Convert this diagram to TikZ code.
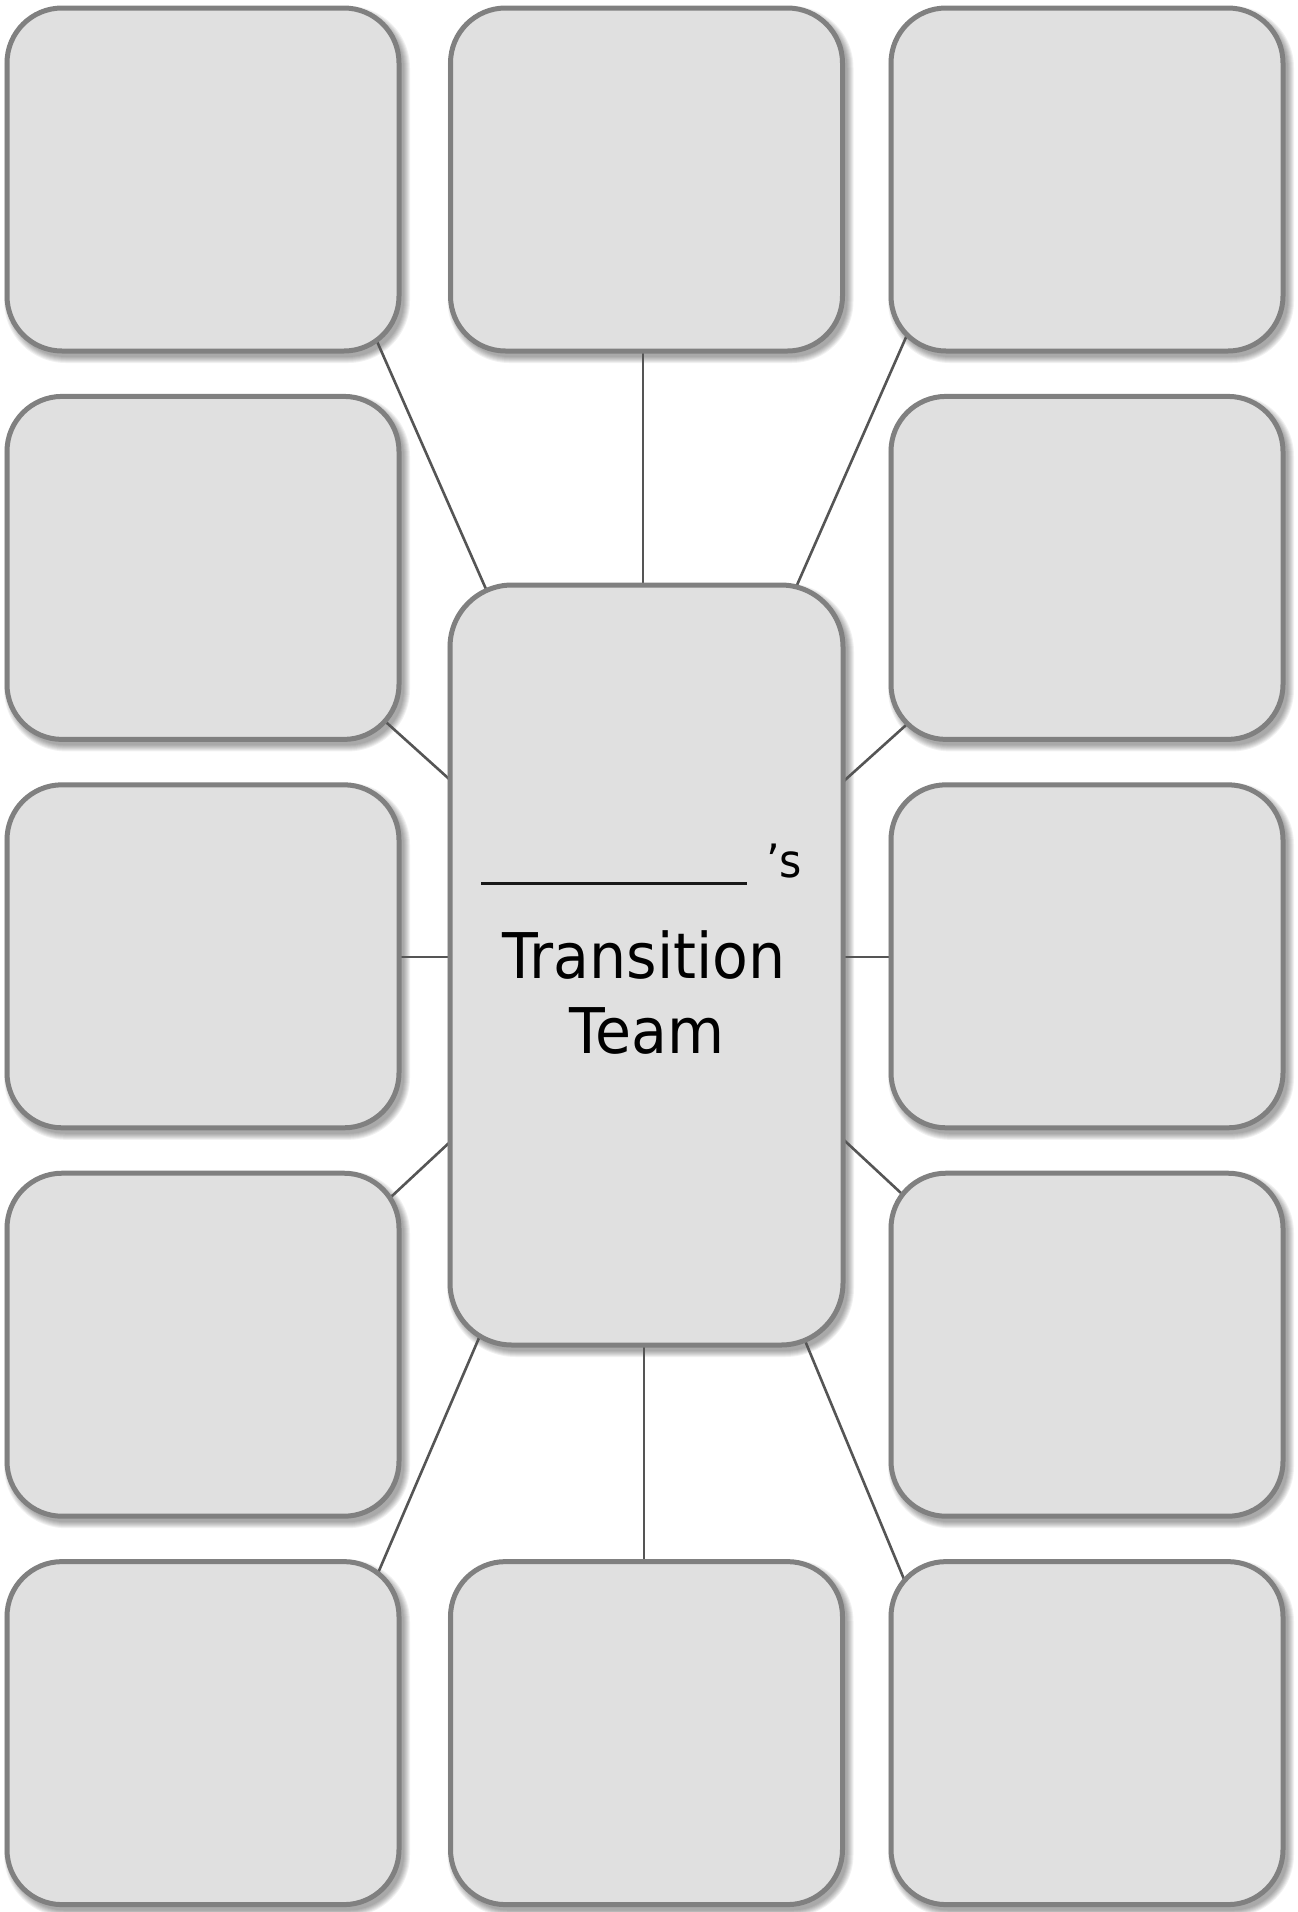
\documentclass[tikz,border=0pt]{standalone}
\usepackage{fontspec}
\newfontfamily\tfont{DejaVu Sans}[FakeStretch=0.93]
\pgfdeclarelayer{bglayer}
\pgfdeclarelayer{shadowlayer}
\pgfdeclarelayer{linelayer}
\pgfsetlayers{bglayer,shadowlayer,linelayer,main}
\definecolor{boxfill}{HTML}{E0E0E0}
\definecolor{boxline}{HTML}{808080}
\definecolor{spoke}{HTML}{555555}
\tikzset{
  cardbox/.style={rectangle, draw=boxline, fill=boxfill, line width=5pt,
    rounded corners=55pt, minimum width=392pt, minimum height=343pt,
    inner sep=0pt, outer sep=0pt},
  hubbox/.style={cardbox, rounded corners=62pt, minimum width=393pt, minimum height=760pt},
  spokeline/.style={draw=spoke, line width=2.6pt},
  bigtext/.style={font=\tfont\fontsize{63}{75}\selectfont, inner sep=0pt, text=black},
  smalltext/.style={font=\tfont\fontsize{46}{55}\selectfont, inner sep=0pt, text=black}
}
\newcommand{\softshadow}[2]{%
  \begin{pgfonlayer}{shadowlayer}
    \foreach \e [evaluate=\e as \rr using #2+\e] in {1,...,7}
      \fill[black, opacity=0.055, rounded corners=\rr pt]
        ([shift={({4-\e},{5-\e})}]#1.north west) rectangle ([shift={({4+\e},{5+\e})}]#1.south east);
  \end{pgfonlayer}}
\begin{document}
\begin{tikzpicture}[x=1pt, y=-1pt]
\begin{pgfonlayer}{bglayer}
\fill[white] (0,0) rectangle (1298,1912);
\end{pgfonlayer}
\useasboundingbox (0,0) rectangle (1298,1912);

% boxes
\node[cardbox] (b11) at (203,179.5) {};
\node[cardbox] (b12) at (646.5,179.5) {};
\node[cardbox] (b13) at (1087,179.5) {};
\node[cardbox] (b21) at (203,567.9) {};
\node[cardbox] (b23) at (1087,567.9) {};
\node[cardbox] (b31) at (203,956.3) {};
\node[cardbox] (b33) at (1087,956.3) {};
\node[cardbox] (b41) at (203,1344.7) {};
\node[cardbox] (b43) at (1087,1344.7) {};
\node[cardbox] (b51) at (203,1733.1) {};
\node[cardbox] (b52) at (646.5,1733.1) {};
\node[cardbox] (b53) at (1087,1733.1) {};
\node[hubbox] (hub) at (646.5,965) {};

\foreach \n in {b11,b12,b13,b21,b23,b31,b33,b41,b43,b51,b52,b53} {\softshadow{\n}{55}}
\softshadow{hub}{62}

% spoke end points
\coordinate (s11a) at (367.6,320);   \coordinate (s11b) at (499.6,620);
\coordinate (s12a) at (643,300);     \coordinate (s12b) at (643,620);
\coordinate (s13a) at (913.6,320);   \coordinate (s13b) at (781.6,620);
\coordinate (s21a) at (370,707.7);   \coordinate (s21b) at (480,806.8);
\coordinate (s23a) at (920,712.5);   \coordinate (s23b) at (810,811.5);
\coordinate (s31a) at (370,957);     \coordinate (s31b) at (480,957);
\coordinate (s33a) at (920,957);     \coordinate (s33b) at (810,957);
\coordinate (s41a) at (370,1216.5);  \coordinate (s41b) at (480,1114);
\coordinate (s43a) at (920,1210.7);  \coordinate (s43b) at (810,1108.5);
\coordinate (s51a) at (370.7,1590);  \coordinate (s51b) at (491,1310);
\coordinate (s52a) at (644,1600);    \coordinate (s52b) at (644,1310);
\coordinate (s53a) at (908.5,1590);  \coordinate (s53b) at (792.3,1310);

\begin{pgfonlayer}{linelayer}
  \foreach \s in {11,12,13,21,23,31,33,41,43,51,52,53}
    \draw[spokeline] (s\s a) -- (s\s b);
\end{pgfonlayer}

% hub text
\coordinate (ul1) at (481,883);
\coordinate (ul2) at (747,883);
\draw[line width=3pt, black!90] (ul1) -- (ul2);
\node[smalltext, anchor=base west] (poss) at (766,877) {’s};
\node[bigtext, anchor=base] (t1) at (644,978) {Transition};
\node[bigtext, anchor=base] (t2) at (647,1053) {Team};
\end{tikzpicture}
\end{document}
